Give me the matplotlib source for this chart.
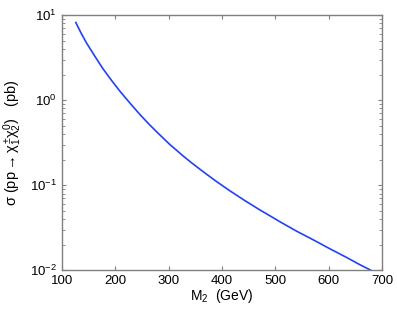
import numpy as np
import matplotlib
matplotlib.use("Agg")
import matplotlib.pyplot as plt
from matplotlib.ticker import LogLocator, NullFormatter

plt.rcParams['font.family'] = ['Liberation Sans', 'DejaVu Sans']
plt.rcParams['mathtext.fontset'] = 'custom'
plt.rcParams['mathtext.rm'] = 'Liberation Sans'
plt.rcParams['mathtext.it'] = 'Liberation Sans'

# cross section (pb)
m2 = [126, 136, 146, 162, 177, 193, 209, 228, 246, 262, 278, 302, 327, 343,
      359, 387, 415, 443, 471, 490, 509, 540, 571, 602, 634, 656, 679]
sigma = [8.20, 6.14, 4.72, 3.27, 2.34, 1.71, 1.27, 0.918, 0.682, 0.533, 0.423,
         0.303, 0.222, 0.184, 0.154, 0.114, 0.0861, 0.0661, 0.0514, 0.0438,
         0.0372, 0.0289, 0.0229, 0.0180, 0.01416, 0.0119, 0.01005]

x_ticks = [100, 200, 300, 400, 500, 600, 700]

fig = plt.figure(figsize=(3.97, 3.09), dpi=100)
ax = fig.add_axes([0.156, 0.125, 0.806, 0.826])

ax.plot(m2, sigma, color="#2040ff", linewidth=1.2)

ax.set_yscale("log")
ax.set_xlim(100, 700)
ax.set_ylim(1e-2, 1e1)
ax.set_xticks(x_ticks)
ax.yaxis.set_major_locator(LogLocator(base=10, numticks=10))
ax.yaxis.set_minor_locator(LogLocator(base=10, subs=np.arange(2, 10), numticks=10))
ax.yaxis.set_minor_formatter(NullFormatter())

for s in ax.spines.values():
    s.set_color("#808080")
    s.set_linewidth(1.0)
ax.tick_params(which="both", direction="in", top=True, right=True,
               color="#808080", labelsize=9.5, labelcolor="black")
ax.tick_params(which="major", length=3)
ax.tick_params(which="minor", length=2)

ax.set_xlabel(r"M$_2$  (GeV)", fontsize=10, labelpad=0)
ax.set_ylabel(r"$\sigma$ (pp$\rightarrow\chi_1^{\pm}\chi_2^{0}$)   (pb)",
              fontsize=10.5, labelpad=4)

fig.savefig("out.png", dpi=100)
